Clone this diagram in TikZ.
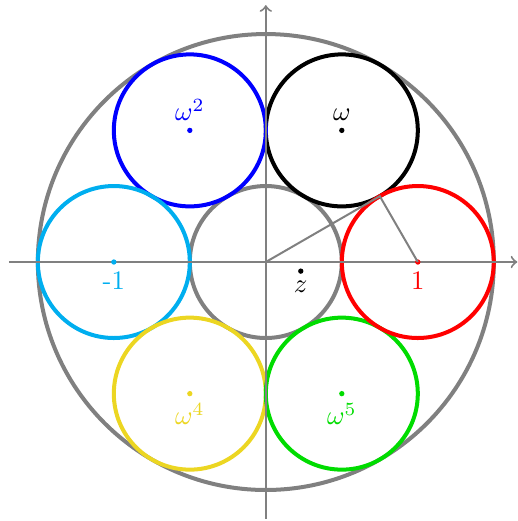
\documentclass[tikz,border=0pt]{standalone}
\definecolor{mycyan}{RGB}{0,174,239}
\definecolor{myyellow}{RGB}{236,214,34}
\definecolor{mygreen}{RGB}{0,220,0}
\definecolor{mygray}{RGB}{128,128,128}
\begin{document}
\begin{tikzpicture}[x=2cm,y=2cm,
  ring/.style={line width=1.5pt},
  axis/.style={mygray,line width=0.75pt,->},
  guide/.style={mygray,line width=0.75pt},
  pt/.style={circle,fill,inner sep=0pt,minimum size=2pt}]
\useasboundingbox (-1.749,-1.704) rectangle (1.658,1.724);
% circles
\draw[ring,mygray] (0,0) circle (1.5);
\draw[ring,mygray] (0,0) circle (0.5);
\draw[ring,black] (0.5,0.8660) circle (0.5);
\draw[ring,blue] (-0.5,0.8660) circle (0.5);
\draw[ring,mycyan] (-1,0) circle (0.5);
\draw[ring,myyellow] (-0.5,-0.8660) circle (0.5);
\draw[ring,mygreen] (0.5,-0.8660) circle (0.5);
\draw[ring,red] (1,0) circle (0.5);
% axes
\coordinate (xl) at (-1.69,0);
\coordinate (xr) at (1.655,0);
\coordinate (yb) at (0,-1.69);
\coordinate (yt) at (0,1.69);
\draw[axis] (xl) -- (xr);
\draw[axis] (yb) -- (yt);
% points
\node[pt,black] (w1) at (0.5,0.8660) {};
\node[pt,blue] (w2) at (-0.5,0.8660) {};
\node[pt,mycyan] (w3) at (-1,0) {};
\node[pt,myyellow] (w4) at (-0.5,-0.8660) {};
\node[pt,mygreen] (w5) at (0.5,-0.8660) {};
\node[pt,red] (w0) at (1,0) {};
\node[pt,black] (z) at (0.23,-0.06) {};
\coordinate (o) at (0,0);
\coordinate (t) at (0.75,0.4330);
\draw[guide] (o) -- (t) -- (w0.center);
% labels
\node[above,black] at (w1) {$\omega$};
\node[above,blue] at (w2) {$\omega^2$};
\node[below,mycyan] at (w3) {-1};
\node[below,myyellow] at (w4) {$\omega^4$};
\node[below,mygreen] at (w5) {$\omega^5$};
\node[below,red] at (w0) {1};
\node[below,black] at (z) {$z$};
\end{tikzpicture}
\end{document}
